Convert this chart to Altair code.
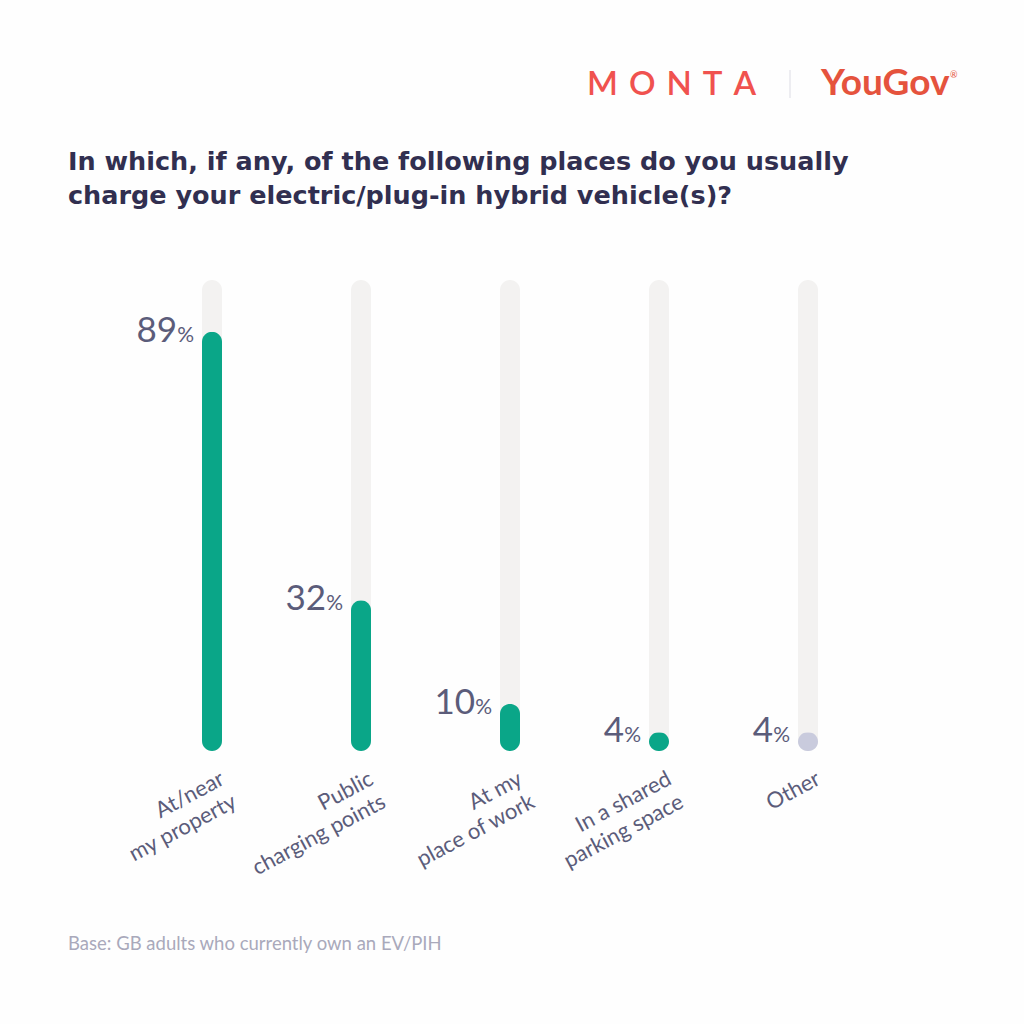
import altair as alt
import pandas as pd

categories = ["At/near\nmy property", "Public\ncharging points", "At my\nplace of work",
              "In a shared\nparking space", "Other"]
values = [89, 32, 10, 4, 4]
track_max = [100, 100, 100, 100, 100]

title_lines = ["In which, if any, of the following places do you usually",
               "charge your electric/plug-in hybrid vehicle(s)?"]
footnote = "Base: GB adults who currently own an EV/PIH"

df = pd.DataFrame({"category": categories, "value": values, "track": track_max,
                   "num": [str(v) for v in values], "pct": ["%"] * len(values)})

OX, OY = 137.5, 280  # plot origin on page

x_enc = alt.X("category:N", sort=categories, axis=None,
              scale=alt.Scale(paddingInner=0, paddingOuter=0))
y_scale = alt.Scale(domain=[0, 100], nice=False, zero=True)

base = alt.Chart(df)

track = base.mark_bar(size=20, cornerRadius=10, color="#f3f2f1").encode(
    x=x_enc, y=alt.Y("track:Q", scale=y_scale, axis=None))

bars = base.mark_bar(size=20, cornerRadius=10).encode(
    x=x_enc, y=alt.Y("value:Q", scale=y_scale, axis=None),
    color=alt.condition("datum.category === 'Other'", alt.value("#c9cbdd"), alt.value("#0aa688")))

num_txt = base.mark_text(align="right", baseline="alphabetic", dx=-35, dy=10,
                         font="Lato", fontSize=35, color="#5b5c7a").encode(
    x=x_enc, y=alt.Y("value:Q", scale=y_scale), text="num:N")

pct_txt = base.mark_text(align="right", baseline="alphabetic", dx=-18, dy=10,
                         font="Lato", fontSize=21, color="#5b5c7a").encode(
    x=x_enc, y=alt.Y("value:Q", scale=y_scale), text="pct:N")

cat_txt = base.mark_text(align="right", baseline="middle", angle=332, lineBreak="\n",
                         dx=12, font="Lato", fontSize=22, lineHeight=26,
                         color="#5b5c7a").encode(
    x=x_enc, y=alt.value(783 - OY), text="category:N")

def label(text, x, y, **kw):
    return alt.Chart(pd.DataFrame({"t": [text]})).mark_text(**kw).encode(
        x=alt.value(x - OX), y=alt.value(y - OY), text="t:N")

title1 = label(title_lines[0], 68, 170, align="left", baseline="alphabetic",
               font="DejaVu Sans", fontWeight=700, fontSize=25.5, color="#312f50")
title2 = label(title_lines[1], 68, 204, align="left", baseline="alphabetic",
               font="DejaVu Sans", fontWeight=700, fontSize=25.5, color="#312f50")
foot = label(footnote, 68, 950, align="left", baseline="alphabetic",
             font="Lato", fontSize=18.5, color="#a9a9bb")
monta = label("M\u2004O\u2004N\u2004T\u2004A", 587, 95, align="left", baseline="alphabetic",
              font="Lato", fontWeight=600, fontSize=33, color="#f0524f")
yougov = label("YouGov", 821, 95, align="left", baseline="alphabetic",
               font="Lato", fontWeight=700, fontSize=37, color="#e5533d")
reg = label("\u00ae", 950, 78, align="left", baseline="alphabetic",
            font="Lato", fontSize=9, color="#e5533d")
sep = alt.Chart(pd.DataFrame({"a": [0]})).mark_rule(color="#dcdce4", strokeWidth=1).encode(
    x=alt.value(790 - OX), y=alt.value(70 - OY), y2=alt.value(98 - OY))

chart = alt.layer(track, bars, num_txt, pct_txt, cat_txt, title1, title2, foot,
                  monta, yougov, reg, sep).properties(
    width=745, height=471, autosize="none",
    padding={"left": OX, "top": OY, "right": 1024 - OX - 745, "bottom": 1024 - OY - 471},
    background="#fefefe",
).configure_view(strokeWidth=0)

chart.save("out.html", embed_options={"renderer": "svg", "actions": False})
